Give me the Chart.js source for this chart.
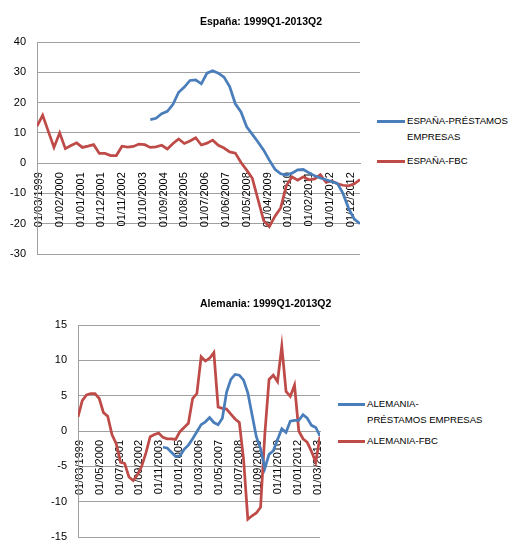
<!DOCTYPE html>
<html>
<head>
<meta charset="utf-8">
<script src="https://cdn.jsdelivr.net/npm/chart.js@4.4.1/dist/chart.umd.min.js"></script>
<style>
  html, body { margin: 0; padding: 0; background: #fff; }
  body { width: 510px; height: 541px; position: relative; overflow: hidden; font-family: "Liberation Sans", Arial, sans-serif; }
  .cv { position: absolute; }
  .title { position: absolute; font-weight: bold; font-size: 10.5px; color: #000; white-space: nowrap; line-height: 14px; }
  .leg { position: absolute; font-size: 9.6px; color: #000; line-height: 16px; white-space: nowrap; }
  .mk { position: absolute; height: 3px; }
</style>
</head>
<body>
<div class="cv" style="left:0;top:0;width:370px;height:280px;"><canvas id="es"></canvas></div>
<div class="cv" style="left:0;top:290px;width:330px;height:251px;"><canvas id="de"></canvas></div>

<div class="title" style="left:200px;top:14px;">España: 1999Q1-2013Q2</div>
<div class="title" style="left:200px;top:296px;">Alemania: 1999Q1-2013Q2</div>

<div class="mk" style="left:377px;top:119.5px;width:28px;background:#4A7EBB;"></div>
<div class="leg" style="left:407px;top:112.5px;">ESPAÑA-PRÉSTAMOS<br>EMPRESAS</div>
<div class="mk" style="left:377px;top:159.5px;width:28px;background:#BE4B48;"></div>
<div class="leg" style="left:407px;top:153px;">ESPAÑA-FBC</div>

<div class="mk" style="left:338px;top:402.5px;width:27px;background:#4A7EBB;"></div>
<div class="leg" style="left:367px;top:396px;">ALEMANIA-<br>PRÉSTAMOS EMPRESAS</div>
<div class="mk" style="left:338px;top:440px;width:27px;background:#BE4B48;"></div>
<div class="leg" style="left:367px;top:433px;">ALEMANIA-FBC</div>

<script>
// Categories: quarters 1999Q1 .. 2013Q2 (dated at last month of each quarter: 01/03/1999 ... 01/06/2013)
const quarters = [];
for (let y = 1999; y <= 2013; y++) {
  for (let q = 1; q <= 4; q++) {
    if (y === 2013 && q > 2) break;
    quarters.push(y + 'Q' + q);
  }
}

// España
const esPrestamos = [
  null, null, null, null, null, null, null, null, null, null,
  null, null, null, null, null, null, null, null, null, null,
  14.4, 14.8, 16.3, 17.1, 19.4, 23.4, 25.1, 27.3, 27.5, 26.2,
  29.7, 30.5, 29.7, 28.4, 25.3, 19.6, 16.9, 12.0, 9.5, 7.0,
  4.3, 1.0, -2.0, -3.5, -3.9, -3.3, -2.2, -2.1, -3.2, -4.2,
  -4.9, -5.5, -6.1, -6.7, -10.0, -15.0, -18.5, -20.0
];
const esFBC = [
  12.2, 15.8, 10.5, 5.2, 10.0, 4.8, 5.8, 6.7, 5.2, 5.6,
  6.1, 3.2, 3.2, 2.5, 2.5, 5.6, 5.3, 5.5, 6.3, 6.1,
  5.2, 5.4, 5.9, 4.7, 6.5, 8.0, 6.5, 7.3, 8.4, 6.0,
  6.6, 7.6, 5.9, 5.0, 3.7, 3.3, 0.2, -2.3, -5.0, -12.0,
  -19.0, -21.0, -17.5, -14.8, -7.5, -4.5, -5.6, -4.5, -5.5, -5.2,
  -3.8, -6.3, -5.9, -6.8, -7.3, -7.5, -6.8, -5.4
];
const esTickLabels = ['01/03/1999','01/02/2000','01/01/2001','01/12/2001','01/11/2002','01/10/2003',
  '01/09/2004','01/08/2005','01/07/2006','01/06/2007','01/05/2008','01/04/2009','01/03/2010',
  '01/02/2011','01/01/2012','01/12/2012'];
const esYTicks = [40, 30, 20, 10, 0, -10, -20, -30];

// Alemania
const dePrestamos = [
  null, null, null, null, null, null, null, null, null, null,
  null, null, null, null, null, null, null, null, null, null,
  -2.3, -2.4, -3.0, -3.6, -3.5, -2.6, -2.0, -1.1, -0.1, 0.9,
  1.3, 1.9, 1.2, 0.9, 1.8, 5.5, 7.3, 8.0, 7.9, 7.2,
  5.4, 2.3, -0.8, -2.5, -5.3, -3.3, -2.8, -1.2, 0.3, -0.2,
  1.4, 1.5, 1.5, 2.3, 1.8, 0.8, 0.5, -0.7
];
const deFBC = [
  2.0, 4.3, 5.1, 5.3, 5.3, 4.6, 2.6, 2.1, -0.5, -1.8,
  -4.4, -4.6, -6.5, -7.0, -6.2, -5.0, -3.1, -0.8, -0.5, -0.3,
  -0.9, -1.1, -1.1, -1.2, -0.1, 0.5, 1.1, 4.6, 5.3, 10.5,
  9.9, 10.3, 11.1, 3.4, 3.2, 3.1, 2.4, 1.7, 1.2, -4.0,
  -12.5, -12.0, -11.6, -10.8, -0.5, 7.3, 7.9, 7.0, 12.0, 5.6,
  4.9, 6.5, 0.0, -1.1, -1.6, -2.9, -4.4, -0.8
];
const deTickLabels = ['01/03/1999','01/05/2000','01/07/2001','01/09/2002','01/11/2003','01/01/2005',
  '01/03/2006','01/05/2007','01/07/2008','01/09/2009','01/11/2010','01/01/2012','01/03/2013'];
const deYTicks = [15, 10, 5, 0, -5, -10, -15];

const BLUE = '#4A7EBB';
const RED = '#BE4B48';
const GRID = '#A0A0A0';
const FONT = "'Liberation Sans', Arial, sans-serif";

// month index (months since Jan 1999) of a dd/mm/yyyy label
function monthOf(label) {
  const p = label.split('/');
  return (parseInt(p[2], 10) - 1999) * 12 + (parseInt(p[1], 10) - 1);
}
function quarterMonth(qLabel) {
  const y = parseInt(qLabel.slice(0, 4), 10);
  const q = parseInt(qLabel.slice(5), 10);
  return (y - 1999) * 12 + q * 3 - 1;
}
function series(values) {
  const pts = [];
  values.forEach((v, i) => { if (v !== null) pts.push({ x: quarterMonth(quarters[i]), y: v }); });
  return pts;
}

function makeChart(id, prest, fbc, prestName, fbcName, tickLabels, yTicks, yAxisWidth, pad) {
  const tickMonths = tickLabels.map(monthOf);
  const labelByMonth = {};
  tickLabels.forEach((l, i) => { labelByMonth[tickMonths[i]] = l; });
  const yMax = Math.max(...yTicks), yMin = Math.min(...yTicks);
  return new Chart(document.getElementById(id), {
    type: 'line',
    data: {
      datasets: [
        { label: prestName, data: series(prest), borderColor: BLUE, backgroundColor: BLUE, borderWidth: 2.75, pointRadius: 0, tension: 0, fill: false },
        { label: fbcName, data: series(fbc), borderColor: RED, backgroundColor: RED, borderWidth: 2.75, pointRadius: 0, tension: 0, fill: false }
      ]
    },
    options: {
      responsive: true,
      maintainAspectRatio: false,
      animation: false,
      layout: { padding: pad, autoPadding: false },
      plugins: { legend: { display: false }, title: { display: false }, tooltip: { enabled: false } },
      scales: {
        x: {
          type: 'linear',
          position: { y: 0 },
          min: quarterMonth(quarters[0]),
          max: quarterMonth(quarters[quarters.length - 1]),
          grid: { display: false, drawTicks: false },
          border: { display: true, color: GRID, width: 1 },
          afterBuildTicks: (s) => { s.ticks = tickMonths.map(v => ({ value: v })); },
          afterFit: (s) => { s.height = 0; s.paddingLeft = 0; s.paddingRight = 0; s.paddingTop = 0; s.paddingBottom = 0; },
          ticks: {
            autoSkip: false, minRotation: 90, maxRotation: 90, padding: 9, labelOffset: 2,
            color: '#000', font: { family: FONT, size: 11 },
            callback: (v) => labelByMonth[v] !== undefined ? labelByMonth[v] : ''
          }
        },
        y: {
          min: yMin, max: yMax,
          afterBuildTicks: (s) => { s.ticks = yTicks.map(v => ({ value: v })); },
          afterFit: (s) => { s.width = yAxisWidth; s.paddingTop = 0; s.paddingBottom = 0; s.paddingLeft = 0; s.paddingRight = 0; },
          grid: { color: GRID, lineWidth: 1, drawTicks: false },
          border: { display: true, color: GRID, width: 1 },
          ticks: { padding: 11, color: '#000', font: { family: FONT, size: 11 } }
        }
      }
    }
  });
}

makeChart('es', esPrestamos, esFBC, 'ESPAÑA-PRÉSTAMOS EMPRESAS', 'ESPAÑA-FBC', esTickLabels, esYTicks, 37,
  { left: 0, top: 42, right: 10, bottom: 26 });
makeChart('de', dePrestamos, deFBC, 'ALEMANIA-PRÉSTAMOS EMPRESAS', 'ALEMANIA-FBC', deTickLabels, deYTicks, 78,
  { left: 0, top: 35, right: 10, bottom: 4 });
</script>
</body>
</html>
